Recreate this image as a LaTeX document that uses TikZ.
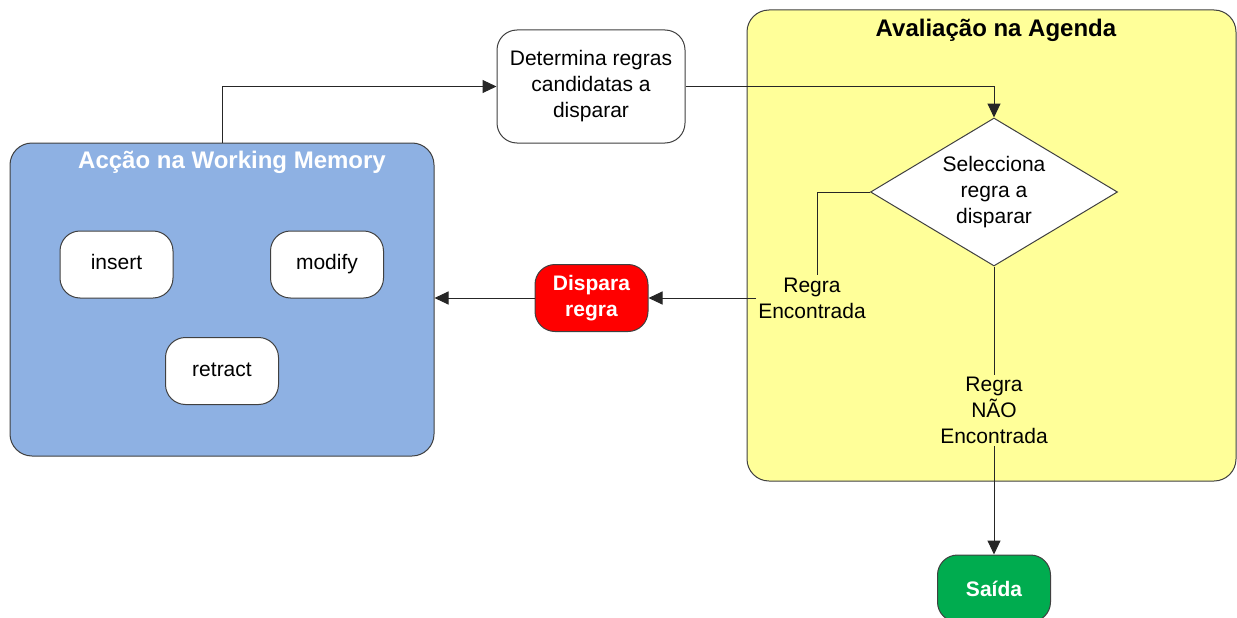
\documentclass[tikz,border=0pt]{standalone}
\usepackage{fontspec}
\setmainfont{Liberation Sans}
\usetikzlibrary{arrows.meta,shapes.geometric}

\definecolor{wmblue}{HTML}{8EB1E3}
\definecolor{agyellow}{HTML}{FFFF99}
\definecolor{firered}{HTML}{FF0000}
\definecolor{exitgreen}{HTML}{00AC4F}
\definecolor{edgegray}{HTML}{404040}

\tikzset{
  panel/.style={draw=edgegray, line width=1pt, rounded corners=22pt, inner sep=0pt},
  paneltitle/.style={font=\fontsize{24}{28}\selectfont\bfseries},
  action/.style={draw=edgegray, line width=1pt, fill=white, rounded corners=20pt,
    minimum width=113pt, minimum height=67pt, align=center,
    font=\fontsize{21}{26}\selectfont},
  wmop/.style={action, text height=15pt, text depth=5pt},
  label/.style={align=center, inner sep=2pt, font=\fontsize{21}{26}\selectfont},
  conn/.style={line width=1pt, draw=black!85}
}

\begin{document}
\begin{tikzpicture}[x=1pt,y=-1pt,>={Triangle[length=14pt,width=13pt]}]
\useasboundingbox (0,0) rectangle (1237,618);

% panels
\node[panel, fill=wmblue, minimum width=424pt, minimum height=313pt] (wm) at (222,299.5) {};
\node[paneltitle, text=white] (wmtitle) at (232,162) {Acção na Working Memory};
\node[panel, fill=agyellow, minimum width=489pt, minimum height=471pt] (agenda) at (991.5,245.5) {};
\node[paneltitle] (agtitle) at (996,30) {Avaliação na Agenda};

% working memory actions
\node[wmop] (insert) at (116.5,264.5) {insert};
\node[wmop] (modify) at (327,264.5) {modify};
\node[wmop] (retract) at (222,371) {retract};

% flow
\node[action, minimum width=188pt, minimum height=113pt] (cand) at (591,86.5) {Determina regras\\candidatas a\\disparar};
\node[draw=edgegray, line width=1pt, fill=white, diamond, aspect=1.67, inner sep=0pt,
  minimum width=247pt, minimum height=148pt, align=center,
  font=\fontsize{21}{26}\selectfont] (sel) at (994,192) {Selecciona\\regra a\\disparar};
\node[label] (found) at (812,298) {Regra\\Encontrada};
\node[label] (notfound) at (994,410.5) {Regra\\NÃO\\Encontrada};
\node[action, fill=firered, text=white, font=\fontsize{21}{26}\selectfont\bfseries] (fire) at (591.5,298) {Dispara\\regra};
\node[action, fill=exitgreen, text=white, font=\fontsize{21}{26}\selectfont\bfseries] (exit) at (994,588.5) {Saída};

% connectors
\draw[conn,->] (wm.north) |- (cand.west);
\draw[conn,->] (cand.east) -| (sel.north);
\draw[conn] (sel.west) -| ([xshift=5pt]found.north);
\draw[conn,->] (found.west) -- (found.west -| fire.east);
\draw[conn,->] (fire.west) -- (fire.west -| wm.east);
\draw[conn] (sel.south) -- (notfound.north);
\draw[conn,->] (notfound.south) -- (notfound.south |- exit.north);

\end{tikzpicture}
\end{document}
